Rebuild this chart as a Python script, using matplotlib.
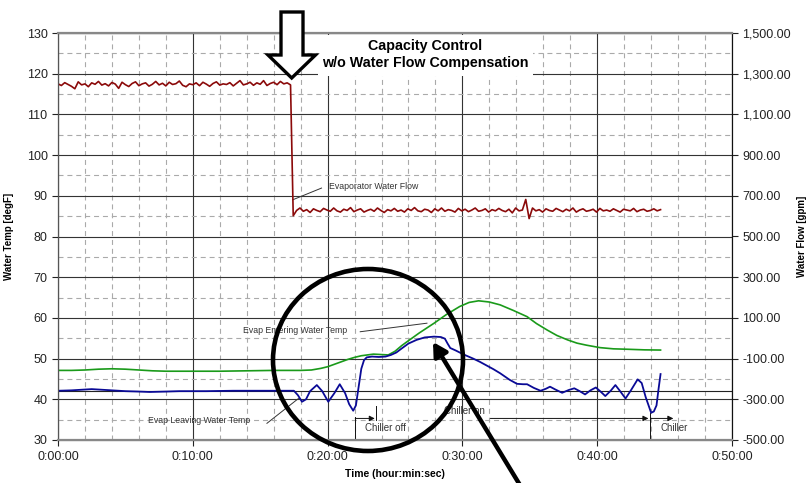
import numpy as np
import matplotlib
matplotlib.use('Agg')
import matplotlib.pyplot as plt
from matplotlib.patches import Polygon, Ellipse, FancyArrowPatch
from matplotlib.ticker import MultipleLocator, FixedLocator, FuncFormatter

plt.rcParams['font.family'] = ['Liberation Sans', 'DejaVu Sans']

# --- data (time in minutes) ---
flow_time_before = np.arange(0, 17.26, 0.25)
flow_before = [1250, 1242, 1256, 1247, 1238, 1226, 1260, 1245, 1250, 1236,
               1255, 1248, 1262, 1244, 1251, 1240, 1257, 1249, 1228, 1258,
               1246, 1237, 1252, 1260, 1241, 1250, 1255, 1239, 1248, 1262,
               1245, 1253, 1240, 1258, 1247, 1251, 1264, 1243, 1236, 1250,
               1246, 1255, 1241, 1258, 1249, 1238, 1252, 1260, 1244, 1250,
               1247, 1256, 1240, 1253, 1266, 1245, 1250, 1258, 1243, 1255,
               1248, 1266, 1242, 1252, 1258, 1246, 1262, 1250, 1255, 1245]
flow_time_after = np.arange(17.45, 44.8, 0.25)
flow_after = [602, 628, 640, 624, 632, 618, 636, 628, 622, 638,
              630, 624, 640, 626, 620, 634, 628, 642, 622, 630,
              636, 620, 628, 634, 624, 640, 628, 618, 632, 626,
              638, 624, 630, 620, 636, 628, 642, 626, 622, 634,
              630, 618, 636, 626, 640, 624, 632, 628, 620, 638,
              626, 634, 622, 630, 640, 624, 628, 636, 620, 632,
              626, 638, 628, 622, 634, 616, 640, 626, 630, 682,
              588, 640, 626, 632, 620, 636, 628, 624, 638, 630,
              622, 634, 626, 640, 620, 630, 636, 624, 628, 634,
              620, 638, 626, 630, 624, 636, 628, 620, 634, 630,
              626, 638, 622, 630, 634, 624, 628, 636, 626, 632]

leave_time = [0, 1, 2, 2.5, 3, 4, 5, 6, 6.8, 8, 9, 10, 11, 12, 13, 14, 15, 16, 17, 17.5,
              17.8, 18.1, 18.4, 18.7, 19.2, 19.6, 20.05, 20.5, 20.9, 21.3, 21.6, 21.9,
              22.1, 22.3, 22.5, 22.7, 22.9, 23.3, 23.8, 24.3, 24.7, 25.1, 25.5, 26.0,
              26.6, 27.2, 27.9, 28.4, 28.7, 28.9, 29.1, 29.5, 30.1, 30.8, 31.3, 32.3,
              32.8, 33.5, 34.05, 34.5, 34.8, 35.3, 35.8, 36.2, 36.5, 36.9, 37.4, 37.9,
              38.3, 38.7, 39.1, 39.5, 39.9, 40.25, 40.6, 41.0, 41.35, 41.7, 42.1, 42.5,
              43.0, 43.3, 43.6, 44.0, 44.2, 44.4, 44.55, 44.7]
leave_temp = [42.1, 42.2, 42.4, 42.5, 42.4, 42.2, 42.0, 41.9, 41.8, 41.9, 42.0, 42.0, 42.0,
              42.05, 42.1, 42.1, 42.1, 42.1, 42.1, 42.1,
              41.0, 39.4, 40.0, 42.0, 43.5, 42.0, 39.4, 41.5, 43.7, 41.5, 38.8, 37.2,
              38.5, 43.0, 47.5, 49.6, 50.3, 50.5, 50.4, 50.5, 50.9, 51.5, 52.5, 53.7,
              54.6, 55.2, 55.4, 55.3, 54.9, 53.7, 52.6, 52.0, 51.0, 50.0, 49.2, 47.4,
              46.4, 44.8, 43.8, 43.7, 43.7, 42.8, 42.1, 42.6, 43.1, 42.4, 41.6, 42.3,
              42.7, 42.0, 41.2, 42.2, 42.9, 41.9, 40.8, 42.1, 43.5, 42.0, 40.2, 42.2,
              44.9, 44.0, 40.5, 36.7, 37.0, 38.5, 42.5, 46.2]

enter_time = [0, 1, 2, 3, 4, 5, 6, 7, 8, 10, 12, 14, 16, 18, 18.8, 19.5, 20, 20.5, 21,
              21.5, 22, 22.5, 23.4, 24.5, 25, 25.5, 26, 26.8, 27.9, 28.8, 29.8, 30.5,
              31.2, 32, 32.8, 33.8, 34.8, 35.5, 36.3, 37, 37.8, 38.5, 39.2, 40.2, 41.2,
              42.2, 43.5, 44.7]
enter_temp = [47.1, 47.1, 47.2, 47.4, 47.5, 47.4, 47.2, 47.0, 46.9, 46.9, 46.9, 47.0,
              47.1, 47.1, 47.2, 47.6, 48.0, 48.6, 49.2, 49.8, 50.3, 50.7, 51.1, 50.9,
              51.8, 53.2, 54.4, 56.3, 58.7, 60.8, 62.8, 63.8, 64.2, 63.9, 63.2, 61.8,
              60.3, 58.6, 57.0, 55.7, 54.6, 53.8, 53.3, 52.7, 52.4, 52.3, 52.15, 52.1]

setpoint = 42.0
flow_ticks = [-500, -300, -100, 100, 300, 500, 700, 900, 1100, 1300, 1500]

W, H = 806, 483
fig = plt.figure(figsize=(W / 100, H / 100), dpi=100)
ax = fig.add_axes([58 / W, 1 - 440 / H, 674 / W, 407 / H])
ax2 = ax.twinx()


def px(x, y):
    return (x / W, 1 - y / H)


ax.set_xlim(0, 50)
ax.set_ylim(30, 130)
ax2.set_ylim(-500, 1500)

ax.xaxis.set_major_locator(MultipleLocator(10))
ax.xaxis.set_minor_locator(MultipleLocator(2))
ax.yaxis.set_major_locator(MultipleLocator(10))
ax.yaxis.set_minor_locator(MultipleLocator(5))
ax2.yaxis.set_major_locator(FixedLocator(flow_ticks))
ax.xaxis.set_major_formatter(FuncFormatter(lambda m, p: f"{int(m // 60)}:{int(m % 60):02d}:00"))
ax2.yaxis.set_major_formatter(FuncFormatter(lambda v, p: f"{v:,.2f}"))

ax.grid(which='major', color='#333333', lw=0.8, ls='-')
ax.grid(which='minor', color='#aaaaaa', lw=0.8, ls=(0, (4.5, 3.5)))
ax.set_axisbelow(True)

for a in (ax, ax2):
    a.tick_params(which='major', labelsize=9, colors='#222222', length=4, width=0.8)
    a.tick_params(which='minor', length=0)
ax.tick_params(axis='x', pad=4)
for s in ('bottom', 'top'):
    ax2.spines[s].set_color('#888888')
    ax2.spines[s].set_linewidth(1.6)
ax2.spines['left'].set_color('#555555')
ax2.spines['right'].set_color('#111111')

ax.axhline(setpoint, color='#222222', lw=0.8, zorder=1)

ax.plot(enter_time, enter_temp, color='#1a9a1a', lw=1.2, zorder=3)
ax.plot(leave_time, leave_temp, color='#0a0a96', lw=1.3, zorder=3)
ax2.plot(np.concatenate([flow_time_before, flow_time_after]), flow_before + flow_after,
         color='#8b0a0a', lw=1.2)

ax.set_xlabel('Time (hour:min:sec)', fontsize=7.5, fontweight='bold')
ax.xaxis.set_label_coords(0.5, -0.072)
ax.set_ylabel('Water Temp [degF]', fontsize=7, fontweight='bold')
ax.yaxis.set_label_coords(-0.065, 0.5)
ax2.set_ylabel('Water Flow [gpm]', fontsize=7, fontweight='bold')
ax2.yaxis.set_label_coords(1.096, 0.5)

# series labels
lab = dict(fontsize=6.3, color='#333333', va='center', zorder=5)
ax.text(20.1, 92.2, 'Evaporator Water Flow', **lab)
ax.plot([19.55, 17.4], [91.9, 89.0], color='#333333', lw=0.7)
ax.text(13.76, 56.95, 'Evap Entering Water Temp', **lab)
ax.plot([22.42, 27.37], [56.6, 58.7], color='#333333', lw=0.7)
ax.text(6.7, 34.7, 'Evap Leaving Water Temp', **lab)
ax.plot([15.5, 17.84], [34.1, 40.2], color='#333333', lw=0.7)

# chiller on/off marks
ch = dict(fontsize=7, color='#333333', va='center')
arr = dict(arrowstyle='-|>', color='#111111', lw=0.7, mutation_scale=8, shrinkA=0, shrinkB=0)
ax.plot([22.05, 22.05], [30.6, 35.7], color='#111111', lw=0.7)
ax.annotate('', xy=(23.5, 35.3), xytext=(22.05, 35.3), arrowprops=arr)
ax.plot([23.6, 23.6], [34.9, 38.4], color='#111111', lw=0.7)
ax.text(22.8, 32.9, 'Chiller off', **ch)
ax.text(28.65, 37.2, 'Chiller on', **ch)
ax.annotate('', xy=(43.8, 35.3), xytext=(32.07, 35.3), arrowprops=arr)
ax.plot([43.95, 43.95], [30.6, 36.6], color='#111111', lw=0.7)
ax.annotate('', xy=(45.65, 35.3), xytext=(43.95, 35.3), arrowprops=arr)
ax.text(44.7, 32.9, 'Chiller', **ch)

# title box
fig.patches.append(plt.Rectangle(px(318, 76), 215 / W, 41 / H, facecolor='white',
                                 edgecolor='none', transform=fig.transFigure, zorder=5))
fig.text(*px(425.5, 54.5), 'Capacity Control\nw/o Water Flow Compensation', ha='center',
         va='center', fontsize=10.3, fontweight='bold', linespacing=1.2, zorder=6)

# hand-drawn marks
hollow = Polygon([px(281, 12), px(303, 12), px(303, 55), px(315.5, 55), px(291.7, 78),
                  px(268, 55), px(281, 55)], closed=True, facecolor='white',
                 edgecolor='black', lw=2.4, transform=fig.transFigure, zorder=7)
fig.add_artist(hollow)
ring = Ellipse(px(368, 360), 190 / W, 182 / H, facecolor='none', edgecolor='black',
               lw=3.3, transform=fig.transFigure, zorder=7)
fig.add_artist(ring)
pointer = FancyArrowPatch(px(526, 495), px(433, 342), transform=fig.transFigure,
                          arrowstyle='-|>,head_length=8,head_width=4.5', color='black',
                          lw=3.2, shrinkA=0, shrinkB=0, zorder=7)
fig.add_artist(pointer)

fig.savefig('out.png', dpi=100)
